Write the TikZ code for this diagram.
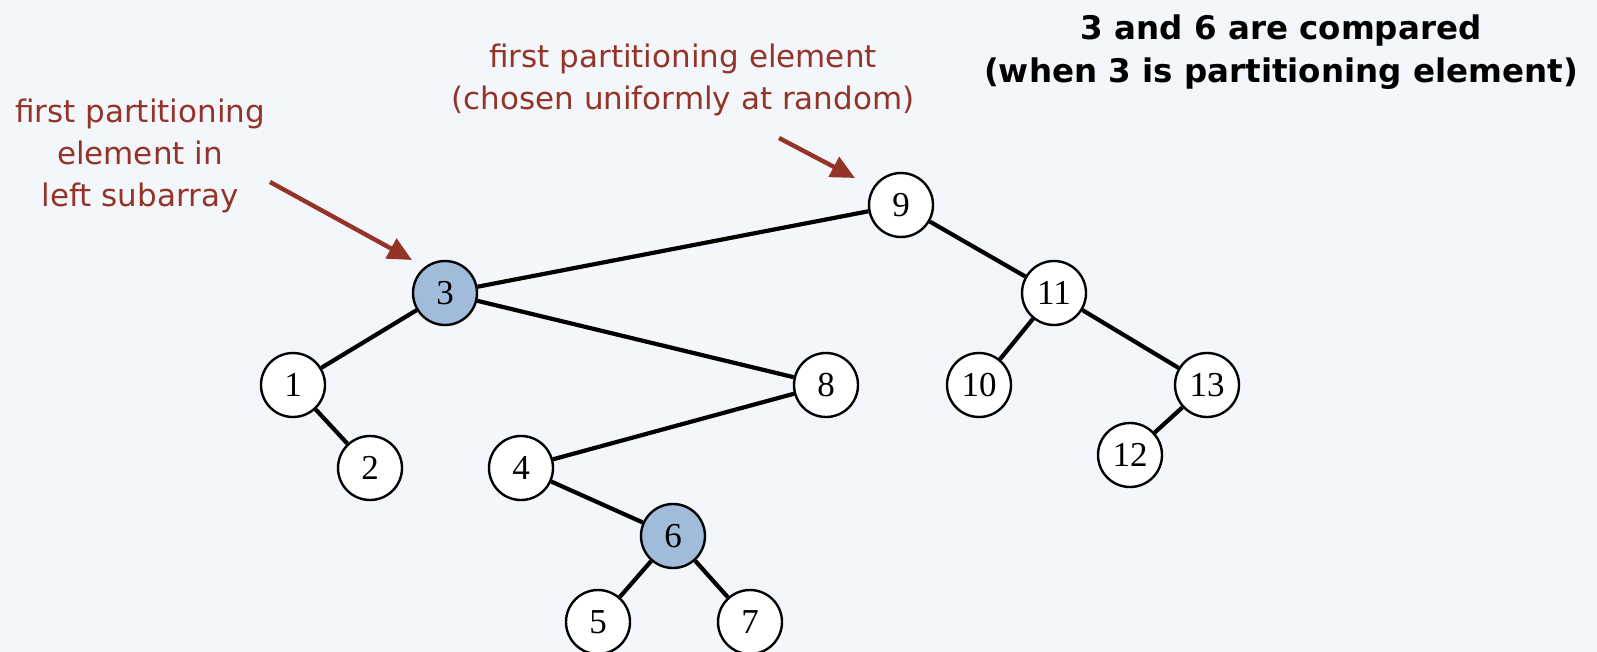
\documentclass[tikz,border=0pt]{standalone}
\usepackage{fontspec}
\setmainfont{Liberation Serif}
\newfontfamily\labelfont{DejaVu Sans}
\usetikzlibrary{arrows.meta}
\definecolor{bgcol}{RGB}{243,246,250}
\definecolor{notered}{RGB}{148,52,40}
\definecolor{pivotblue}{RGB}{161,187,219}
\tikzset{
  keynode/.style={circle, draw=black, line width=2.4pt, fill=white, minimum size=64pt, inner sep=0pt, font=\fontsize{35}{35}\selectfont},
  pivotnode/.style={keynode, fill=pivotblue},
  treeedge/.style={line width=4.2pt, black},
  notetext/.style={text=notered, align=center, font=\labelfont\fontsize{31}{42}\selectfont},
  titletext/.style={text=black, align=center, font=\labelfont\bfseries\fontsize{32.5}{43.5}\selectfont},
  notearrow/.style={draw=notered, line width=4.4pt, -{Triangle[length=24pt,width=22pt]}}
}
\begin{document}
\begin{tikzpicture}[x=1pt,y=-1pt]
\fill[bgcol] (0,0) rectangle (1597,652);
\useasboundingbox (0,0) rectangle (1597,652);
% nodes
\node[keynode] (n9) at (901,205) {9};
\node[pivotnode] (n3) at (445,293) {3};
\node[keynode] (n11) at (1054,293) {11};
\node[keynode] (n1) at (293,385) {1};
\node[keynode] (n8) at (826,385) {8};
\node[keynode] (n10) at (979,385) {10};
\node[keynode] (n13) at (1207,385) {13};
\node[keynode] (n2) at (370,468) {2};
\node[keynode] (n4) at (521,468) {4};
\node[keynode] (n12) at (1130,455) {12};
\node[pivotnode] (n6) at (673,536) {6};
\node[keynode] (n5) at (598,622) {5};
\node[keynode] (n7) at (750,622) {7};
% edges
\draw[treeedge] (n9) -- (n3);
\draw[treeedge] (n9) -- (n11);
\draw[treeedge] (n3) -- (n1);
\draw[treeedge] (n3) -- (n8);
\draw[treeedge] (n1) -- (n2);
\draw[treeedge] (n8) -- (n4);
\draw[treeedge] (n4) -- (n6);
\draw[treeedge] (n6) -- (n5);
\draw[treeedge] (n6) -- (n7);
\draw[treeedge] (n11) -- (n10);
\draw[treeedge] (n11) -- (n13);
\draw[treeedge] (n13) -- (n12);
% labels
\node[notetext] (lab9) at (683,80) {first partitioning element\\(chosen uniformly at random)};
\node[notetext] (lab3) at (140,156) {first partitioning\\element in\\left subarray};
\node[titletext] (title) at (1281,52) {3 and 6 are compared\\(when 3 is partitioning element)};
\coordinate (a9s) at (779,138);
\coordinate (a9e) at (855,178);
\coordinate (a3s) at (270,182);
\coordinate (a3e) at (412,260);
\draw[notearrow] (a9s) -- (a9e);
\draw[notearrow] (a3s) -- (a3e);
\end{tikzpicture}
\end{document}
